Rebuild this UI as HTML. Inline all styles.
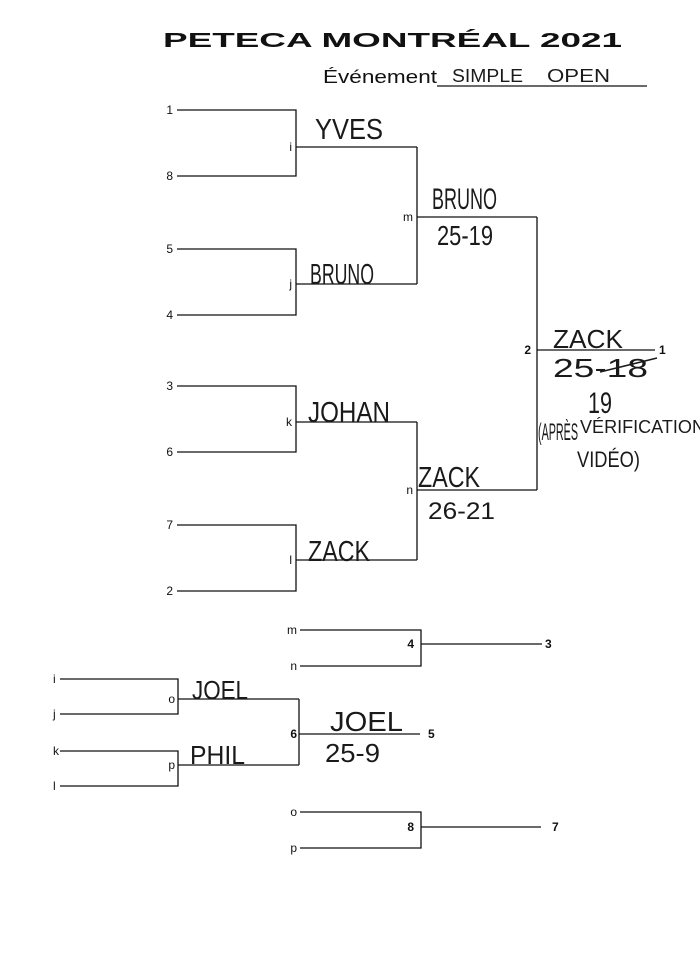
<!DOCTYPE html>
<html>
<head>
<meta charset="utf-8">
<style>
  html,body{margin:0;padding:0;background:#fff;}
  svg{display:block;}
  .ln{fill:none;stroke:#111;stroke-width:1.3;}
  .lb{font-family:"Liberation Sans",sans-serif;font-size:12px;fill:#111;}
  .bd{font-family:"Liberation Sans",sans-serif;font-size:12px;font-weight:bold;fill:#111;}
  .hw{font-family:"Liberation Sans Narrow","Liberation Sans",sans-serif;fill:#1a1a1a;font-weight:normal;}
</style>
</head>
<body>
<svg width="700" height="963" viewBox="0 0 700 963" xmlns="http://www.w3.org/2000/svg">
  <rect width="700" height="963" fill="#fff"/>
  <!-- Title -->
  <text x="163" y="47" font-family="Liberation Sans, sans-serif" font-weight="bold" font-size="20" textLength="459" lengthAdjust="spacingAndGlyphs" fill="#111">PETECA MONTRÉAL 2021</text>
  <text x="323" y="83" font-family="Liberation Sans, sans-serif" font-size="18" textLength="114" lengthAdjust="spacingAndGlyphs" fill="#111">Événement</text>
  <line x1="437" y1="86" x2="647" y2="86" stroke="#111" stroke-width="1.3"/>
  <text class="hw" x="452" y="82" font-size="18" textLength="71" lengthAdjust="spacingAndGlyphs">SIMPLE</text>
  <text class="hw" x="547" y="82" font-size="18" textLength="63" lengthAdjust="spacingAndGlyphs">OPEN</text>

  <!-- Main bracket lines -->
  <path class="ln" d="M177,110 H296 V176 H177 M296,147 H417
    M177,249 H296 V315 H177 M296,284 H417
    M417,147 V284 M417,217 H537
    M177,386 H296 V452 H177 M296,422 H417
    M177,525 H296 V591 H177 M296,560 H417
    M417,422 V560 M417,490 H537
    M537,217 V490 M537,350 H655"/>
  <!-- 3rd place -->
  <path class="ln" d="M300,630 H421 V666 H300 M421,644 H542"/>
  <!-- 5th place -->
  <path class="ln" d="M60,679 H178 V714 H60 M178,699 H299
    M60,751 H178 V786 H60 M178,765 H299
    M299,699 V765 M299,734 H420"/>
  <!-- 7th place -->
  <path class="ln" d="M300,812 H421 V848 H300 M421,827 H541"/>

  <!-- seed numbers -->
  <g class="lb" text-anchor="end">
    <text x="173" y="114">1</text>
    <text x="173" y="180">8</text>
    <text x="173" y="253">5</text>
    <text x="173" y="319">4</text>
    <text x="173" y="390">3</text>
    <text x="173" y="456">6</text>
    <text x="173" y="529">7</text>
    <text x="173" y="595">2</text>
    <text x="292" y="151">i</text>
    <text x="292" y="288">j</text>
    <text x="292" y="426">k</text>
    <text x="292" y="564">l</text>
    <text x="413" y="221">m</text>
    <text x="413" y="494">n</text>
    <text x="297" y="634">m</text>
    <text x="297" y="670">n</text>
    <text x="175" y="703">o</text>
    <text x="175" y="769">p</text>
    <text x="297" y="816">o</text>
    <text x="297" y="852">p</text>
  </g>
  <g class="lb">
    <text x="53" y="683">i</text>
    <text x="53" y="718">j</text>
    <text x="53" y="755">k</text>
    <text x="53" y="790">l</text>
  </g>
  <g class="bd" text-anchor="end">
    <text x="531" y="354">2</text>
    <text x="414" y="648">4</text>
    <text x="297" y="738">6</text>
    <text x="414" y="831">8</text>
  </g>
  <g class="bd">
    <text x="659" y="354">1</text>
    <text x="545" y="648">3</text>
    <text x="428" y="738">5</text>
    <text x="552" y="831">7</text>
  </g>

  <!-- handwriting -->
  <text class="hw" x="315" y="139" font-size="29" textLength="68" lengthAdjust="spacingAndGlyphs">YVES</text>
  <text class="hw" x="432" y="209" font-size="30" textLength="65" lengthAdjust="spacingAndGlyphs">BRUNO</text>
  <text class="hw" x="437" y="245" font-size="28" textLength="56" lengthAdjust="spacingAndGlyphs">25-19</text>
  <text class="hw" x="310" y="284" font-size="29" textLength="64" lengthAdjust="spacingAndGlyphs">BRUNO</text>
  <text class="hw" x="308" y="422" font-size="29" textLength="82" lengthAdjust="spacingAndGlyphs">JOHAN</text>
  <text class="hw" x="418" y="487" font-size="29" textLength="62" lengthAdjust="spacingAndGlyphs">ZACK</text>
  <text class="hw" x="428" y="519" font-size="24" textLength="67" lengthAdjust="spacingAndGlyphs">26-21</text>
  <text class="hw" x="308" y="561" font-size="29" textLength="62" lengthAdjust="spacingAndGlyphs">ZACK</text>
  <text class="hw" x="553" y="348" font-size="26" textLength="70" lengthAdjust="spacingAndGlyphs">ZACK</text>
  <text class="hw" x="553" y="377" font-size="26" textLength="95" lengthAdjust="spacingAndGlyphs">25-18</text>
  <line x1="600" y1="372" x2="657" y2="358" stroke="#1a1a1a" stroke-width="1.6"/>
  <text class="hw" x="588" y="413" font-size="30" textLength="24" lengthAdjust="spacingAndGlyphs">19</text>
  <text class="hw" x="538" y="440" font-size="24" textLength="40" lengthAdjust="spacingAndGlyphs">(APRÈS</text>
  <text class="hw" x="580" y="433" font-size="18" textLength="125" lengthAdjust="spacingAndGlyphs">VÉRIFICATION</text>
  <text class="hw" x="577" y="467" font-size="22" textLength="63" lengthAdjust="spacingAndGlyphs">VIDÉO)</text>
  <text class="hw" x="192" y="699" font-size="26" textLength="56" lengthAdjust="spacingAndGlyphs">JOEL</text>
  <text class="hw" x="190" y="764" font-size="26" textLength="55" lengthAdjust="spacingAndGlyphs">PHIL</text>
  <text class="hw" x="330" y="731" font-size="28" textLength="73" lengthAdjust="spacingAndGlyphs">JOEL</text>
  <text class="hw" x="325" y="762" font-size="26" textLength="55" lengthAdjust="spacingAndGlyphs">25-9</text>
</svg>
</body>
</html>
